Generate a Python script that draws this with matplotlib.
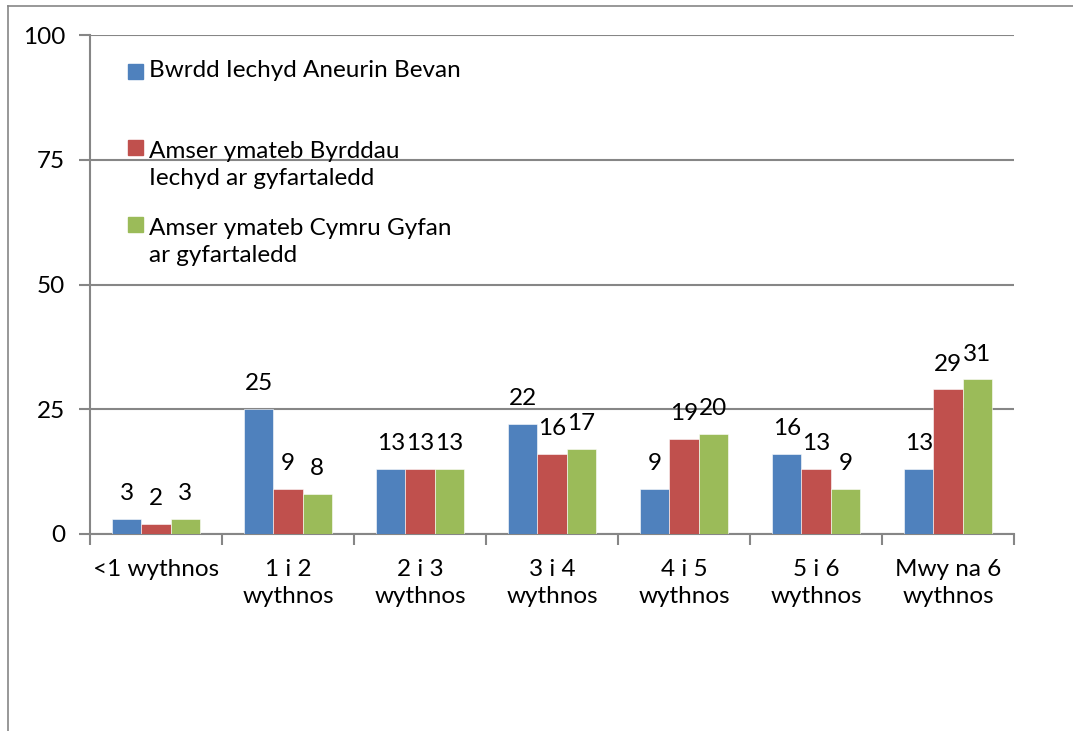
import numpy as np
import matplotlib
matplotlib.use("Agg")
import matplotlib.pyplot as plt
from matplotlib.patches import Rectangle
from matplotlib.lines import Line2D

# ---------------------------
# DATA
# ---------------------------
categories = ["<1 wythnos", "1 i 2\nwythnos", "2 i 3\nwythnos", "3 i 4\nwythnos",
              "4 i 5\nwythnos", "5 i 6\nwythnos", "Mwy na 6\nwythnos"]
series_names = ["Bwrdd Iechyd Aneurin Bevan",
                "Amser ymateb Byrddau\nIechyd ar gyfartaledd",
                "Amser ymateb Cymru Gyfan\nar gyfartaledd"]
aneurin_bevan = [3, 25, 13, 22, 9, 16, 13]
byrddau_avg = [2, 9, 13, 16, 19, 13, 29]
cymru_avg = [3, 8, 13, 17, 20, 9, 31]
y_ticks = [0, 25, 50, 75, 100]

colors = ["#4F81BD", "#C0504D", "#9BBB59"]
grey = "#868686"

plt.rcParams["font.family"] = ["Lato", "DejaVu Sans"]
fs = 17.5

# ---------------------------
# PLOT
# ---------------------------
fig = plt.figure(figsize=(10.73, 7.31), dpi=100)
ax = fig.add_axes([90 / 1073, 197 / 731, 924 / 1073, 499 / 731])

x = np.arange(len(categories))
w = 0.222
all_series = [aneurin_bevan, byrddau_avg, cymru_avg]
for i, vals in enumerate(all_series):
    bars = ax.bar(x + (i - 1) * w, vals, w, color=colors[i],
                  edgecolor="white", linewidth=0.4, zorder=3)
    for b, v in zip(bars, vals):
        ax.annotate(str(v), (b.get_x() + b.get_width() / 2, v),
                    xytext=(0, 13.5), textcoords="offset points",
                    ha="center", va="baseline", fontsize=fs)

ax.set_xlim(-0.5, len(categories) - 0.5)
ax.set_ylim(0, 100)
ax.set_yticks(y_ticks)
ax.set_yticklabels([str(t) for t in y_ticks], fontsize=fs)
ax.yaxis.grid(True, color=grey, linewidth=1.5, zorder=0)

ax.set_xticks(x)
ax.set_xticklabels(categories, fontsize=fs, linespacing=1.35, va="top")
ax.set_xticks(np.arange(len(categories) + 1) - 0.5, minor=True)
ax.tick_params(axis="x", which="major", length=0, pad=18)
ax.tick_params(axis="x", which="minor", length=8, width=1.5, color=grey, direction="out")
ax.tick_params(axis="y", length=8, width=1.5, color=grey, pad=10)

for s in ["top", "right"]:
    ax.spines[s].set_visible(False)
for s in ["left", "bottom"]:
    ax.spines[s].set_color(grey)
    ax.spines[s].set_linewidth(1.5)

# legend drawn as text with square keys (Excel-style layout)
leg_y = [0.916, 0.7635, 0.609]   # baseline of first line, axes fraction
line_h = 32 / 499
for i, name in enumerate(series_names):
    ax.add_patch(Rectangle((0.0411, leg_y[i] - 0.004), 0.0162, 0.030,
                           transform=ax.transAxes, color=colors[i], clip_on=False, zorder=4))
    n_extra = name.count("\n")
    ax.text(0.0639, leg_y[i] - n_extra * line_h, name, transform=ax.transAxes, fontsize=fs,
            va="baseline", ha="left", linespacing=1.35, zorder=4)

# outer chart frame (top and left edges only visible)
fig.add_artist(Line2D([8 / 1073, 1], [1 - 6 / 731, 1 - 6 / 731], color=grey, linewidth=1.2))
fig.add_artist(Line2D([8 / 1073, 8 / 1073], [0, 1 - 6 / 731], color=grey, linewidth=1.2))

fig.savefig("out.png", dpi=100)
